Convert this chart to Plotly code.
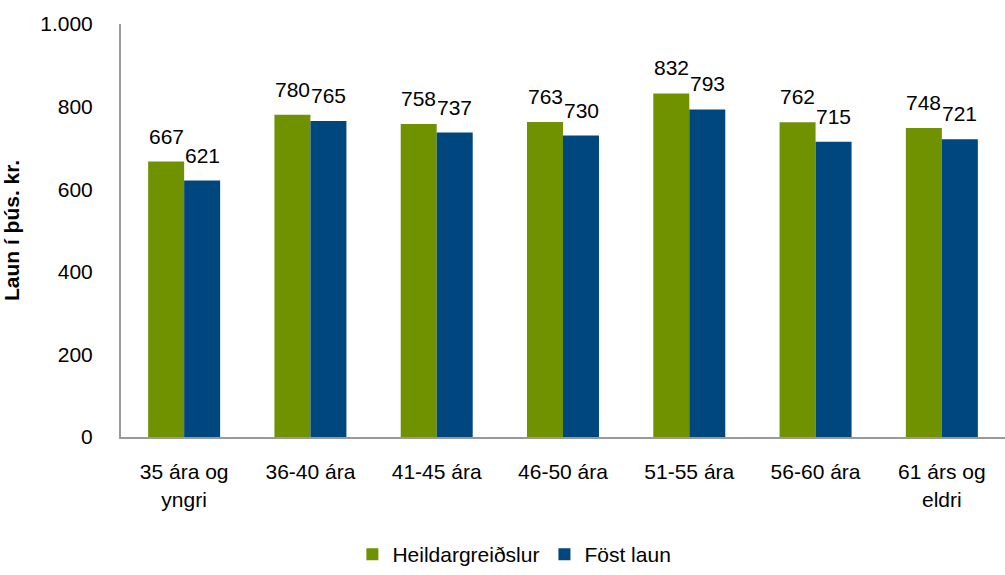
import plotly.graph_objects as go

categories = ["35 ára og<br>yngri", "36-40 ára", "41-45 ára", "46-50 ára", "51-55 ára", "56-60 ára", "61 árs og<br>eldri"]
heildar = [667, 780, 758, 763, 832, 762, 748]
fost = [621, 765, 737, 730, 793, 715, 721]
series_names = ["Heildargreiðslur", "Föst laun"]
colors = ["#709200", "#00467F"]

font = "Liberation Sans, Arial, sans-serif"
fig = go.Figure()
for name, vals, col in zip(series_names, [heildar, fost], colors):
    fig.add_trace(go.Bar(x=categories, y=vals, name=name, marker_color=col,
                         marker_line_width=0))

annotations = []
for vals, shift in [(heildar, -18), (fost, 18)]:
    for c, v in zip(categories, vals):
        annotations.append(dict(x=c, y=v, text=str(v), showarrow=False, xref="x", yref="y",
                                xshift=shift, yshift=12, yanchor="bottom",
                                font=dict(family=font, size=21, color="#000")))

fig.update_layout(
    width=1005, height=575,
    margin=dict(l=121, r=0, t=24, b=132),
    paper_bgcolor="white", plot_bgcolor="white",
    barmode="group", bargap=0.43, bargroupgap=0,
    separators=",.",
    font=dict(family=font, size=21, color="#000"),
    annotations=annotations,
    legend=dict(orientation="h", x=0.445, xanchor="center", y=-0.235, yanchor="top",
                font=dict(size=21), itemsizing="constant", traceorder="normal"),
    yaxis=dict(range=[0, 1000], dtick=200, tickformat=",d", showgrid=False, automargin=False,
               showline=True, linecolor="#999", linewidth=2, ticks="",
               ticklabelstandoff=22,
               title=dict(text="<b>Laun í þús. kr.</b>", font=dict(size=21), standoff=26)),
    xaxis=dict(showline=True, linecolor="#999", linewidth=2, ticks="", showgrid=False,
               automargin=False, tickfont=dict(size=21), ticklabelstandoff=15),
)
post = (
    "document.documentElement.style.margin='0';document.documentElement.style.padding='0';"
    "document.documentElement.style.overflow='hidden';document.documentElement.style.height='575px';"
    "document.body.style.margin='0';document.body.style.padding='0';"
    "document.body.style.overflow='hidden';document.body.style.height='575px';"
)
fig.write_html("out.html", post_script=post, config={"displayModeBar": False})
